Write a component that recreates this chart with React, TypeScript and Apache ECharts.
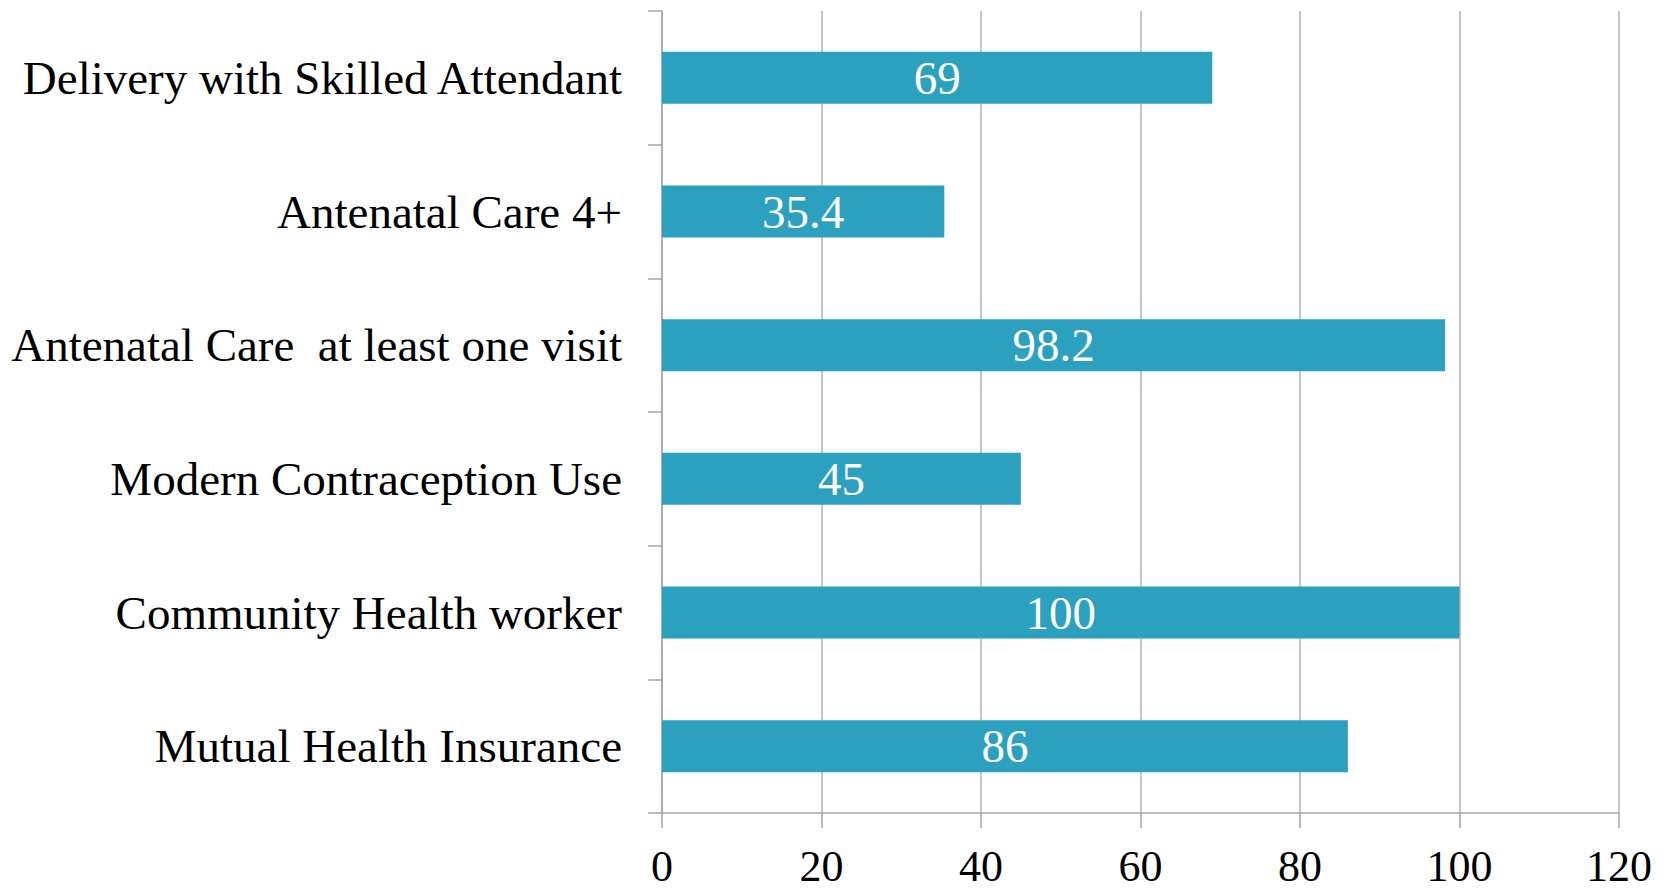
import React, { useEffect, useRef } from "react";
import * as echarts from "echarts";

const categories = [
  "Mutual Health Insurance",
  "Community Health worker",
  "Modern Contraception Use",
  "Antenatal Care  at least one visit",
  "Antenatal Care 4+",
  "Delivery with Skilled Attendant",
];
const values = [86, 100, 45, 98.2, 35.4, 69];
const xMin = 0;
const xMax = 120;
const xInterval = 20;

const FONT = "'Liberation Serif', 'Times New Roman', serif";

export default function App() {
  const ref = useRef<HTMLDivElement>(null);
  useEffect(() => {
    if (!ref.current) return;
    const chart = echarts.init(ref.current, undefined, { renderer: "svg" });
    chart.setOption({
      animation: false,
      grid: { left: 662, right: 52, top: 11, bottom: 77, containLabel: false },
      xAxis: {
        type: "value",
        min: xMin,
        max: xMax,
        interval: xInterval,
        axisLine: { show: true, lineStyle: { color: "#a6a6a6", width: 1.5 } },
        axisTick: { show: true, length: 15, lineStyle: { color: "#a6a6a6", width: 1.5 } },
        splitLine: { show: true, lineStyle: { color: "#b3b3b3", width: 1.5 } },
        axisLabel: {
          color: "#000",
          fontFamily: FONT,
          fontSize: 44,
          lineHeight: 44,
          margin: 31,
        },
      },
      yAxis: {
        type: "category",
        data: categories,
        axisLine: { show: true, lineStyle: { color: "#a6a6a6", width: 1.5 } },
        axisTick: { show: true, length: 14, lineStyle: { color: "#a6a6a6", width: 1.5 } },
        axisLabel: { color: "#000", fontFamily: FONT, fontSize: 47, margin: 40 },
        splitLine: { show: false },
      },
      series: [
        {
          type: "bar",
          data: values,
          barWidth: 52,
          itemStyle: { color: "#2ca1bf" },
          label: {
            show: true,
            position: "inside",
            color: "#fff",
            fontFamily: FONT,
            fontSize: 47,
          },
        },
      ],
    });
    return () => chart.dispose();
  }, []);
  return (
    <div
      ref={ref}
      style={{ position: "fixed", left: 0, top: 0, width: 1671, height: 890, background: "#fff" }}
    />
  );
}
